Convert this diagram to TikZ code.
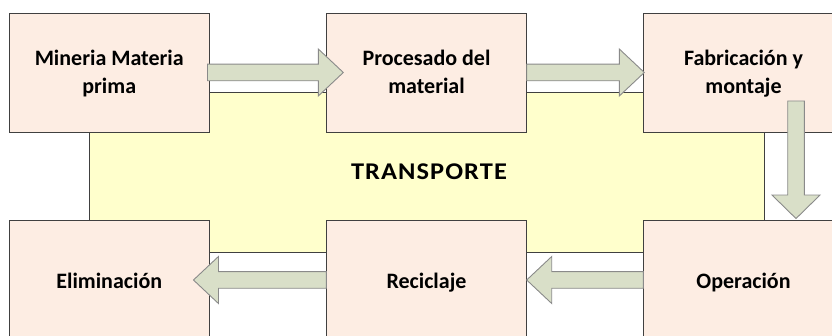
\documentclass[tikz,border=0pt]{standalone}
\usepackage{fontspec}
\setmainfont{Carlito}
\usetikzlibrary{calc}
\definecolor{boxfill}{HTML}{FDEDE3}
\definecolor{boxline}{HTML}{404040}
\definecolor{yelfill}{HTML}{FFFFCC}
\definecolor{arrfill}{HTML}{D9DFC8}
\definecolor{arrline}{HTML}{8A8A8A}
\newcommand\strtop{\rule{0pt}{20pt}}
\newcommand\strbot{\rule[-6.2pt]{0pt}{6.2pt}}
\newcommand\strone{\rule[-6.4pt]{0pt}{30.4pt}}
\newcommand\strtr{\rule[-7.4pt]{0pt}{29.4pt}}
\tikzset{
  stagebox/.style={draw=boxline, fill=boxfill, line width=0.9pt, minimum width=199.5pt, minimum height=119pt, inner sep=0pt, align=center, font=\bfseries\fontsize{22}{27.4}\selectfont},
  transbox/.style={draw=boxline, fill=yelfill, line width=0.9pt, minimum width=675pt, minimum height=160pt, inner sep=0pt, font=\bfseries\fontsize{24}{27}\selectfont\addfontfeature{LetterSpace=4}},
  barrow/.style={draw=arrline, fill=arrfill, line width=0.9pt, line join=miter}
}
\newcommand\harrow[2]{\draw[barrow] let \p1=(#1), \p2=(#2), \n1={ifthenelse(\x2>\x1,1,-1)} in
  (\x1,\y1+8.3pt) -- ({\x2-\n1*25pt},\y1+8.3pt) -- ({\x2-\n1*25pt},\y1+23.5pt) -- (\x2,\y1)
  -- ({\x2-\n1*25pt},\y1-23.5pt) -- ({\x2-\n1*25pt},\y1-8.3pt) -- (\x1,\y1-8.3pt) -- cycle;}
\newcommand\varrow[2]{\draw[barrow] let \p1=(#1), \p2=(#2) in
  (\x1-8.3pt,\y1) -- (\x1-8.3pt,\y2+23.5pt) -- (\x1-24pt,\y2+23.5pt) -- (\x1,\y2)
  -- (\x1+24pt,\y2+23.5pt) -- (\x1+8.3pt,\y2+23.5pt) -- (\x1+8.3pt,\y1) -- cycle;}
\begin{document}
\begin{tikzpicture}[x=1pt,y=-1pt]
\useasboundingbox (0,0) rectangle (832,336);
\node[transbox] (trans) at (426.5,172) {\hspace*{5pt}\strtr\scalebox{1.1}[1]{TRANSPORTE}};
\node[stagebox] (b1) at (109.25,72.5) {\strtop Mineria Materia\\prima\strbot};
\node[stagebox] (b2) at (426.5,72.5) {\strtop Procesado del\\material\strbot};
\node[stagebox] (b3) at (743.5,72.5) {\strtop Fabricación y\\montaje\strbot};
\node[stagebox] (b4) at (109.25,279.5) {\strone Eliminación};
\node[stagebox] (b5) at (426.5,279.5) {\strone Reciclaje};
\node[stagebox] (b6) at (743.5,279.5) {\strone Operación};
\coordinate (a1s) at ($(b1.east)+(-2,0)$);
\coordinate (a1t) at ($(b2.west)+(17,0)$);
\coordinate (a2s) at ($(b2.east)+(0,0)$);
\coordinate (a2t) at ($(b3.west)+(1,0)$);
\coordinate (a3s) at ($(b3.center)+(52.5,28.5)$);
\coordinate (a3t) at ($(b6.north)+(52.5,-1)$);
\coordinate (a4s) at ($(b6.west)+(0,0.5)$);
\coordinate (a4t) at ($(b5.east)+(0,0.5)$);
\coordinate (a5s) at ($(b5.west)+(0,0.5)$);
\coordinate (a5t) at ($(b4.east)+(-16,0.5)$);
\harrow{a1s}{a1t}
\harrow{a2s}{a2t}
\varrow{a3s}{a3t}
\harrow{a4s}{a4t}
\harrow{a5s}{a5t}
\end{tikzpicture}
\end{document}
